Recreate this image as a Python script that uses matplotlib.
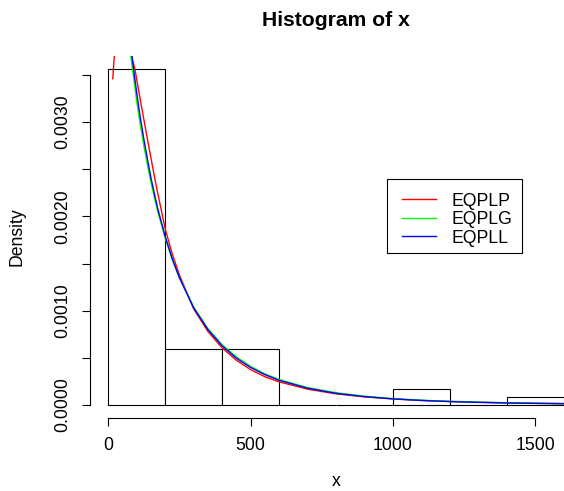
import matplotlib
matplotlib.use("Agg")
import matplotlib.pyplot as plt
from matplotlib.patches import Rectangle
from matplotlib.lines import Line2D
import numpy as np

plt.rcParams['font.family'] = ['Liberation Sans', 'DejaVu Sans']

# ---- data ----
breaks = [0, 200, 400, 600, 800, 1000, 1200, 1400, 1600]
density = [0.003559, 0.000593, 0.000593, 0.0, 0.0, 0.000169, 0.0, 0.0000847]

curve_x = [0, 25, 50, 60, 75, 90, 100, 112, 125, 140, 150, 165, 175, 200, 225, 250,
           300, 350, 400, 450, 500, 550, 600, 700, 800, 900, 1000, 1100, 1200, 1300,
           1400, 1500, 1600]
eqplg_y = [0.00680, 0.00560, 0.00465, 0.00432, 0.00380, 0.00345, 0.00322, 0.00298,
           0.00275, 0.00251, 0.00236, 0.00216, 0.00204, 0.00177, 0.00154, 0.00135,
           0.00104, 0.00081, 0.00064, 0.00051, 0.00041, 0.00033, 0.00027, 0.000185,
           0.000130, 0.000093, 0.000068, 0.000051, 0.000039, 0.000030, 0.000023,
           0.000018, 0.000014]
eqpll_y = [0.00664, 0.00553, 0.00463, 0.00431, 0.00390, 0.00354, 0.00331, 0.00306,
           0.00282, 0.00257, 0.00241, 0.00220, 0.00207, 0.00179, 0.00155, 0.00135,
           0.00103, 0.00080, 0.000627, 0.000497, 0.000398, 0.000322, 0.000262,
           0.000178, 0.000124, 0.0000888, 0.0000647, 0.0000480, 0.0000362, 0.0000277,
           0.0000215, 0.0000168, 0.0000134]
eqplp_x = [16, 20, 30, 40, 50, 60, 70, 80, 94, 110, 125, 140, 150, 165, 175, 200, 225,
           250, 300, 350, 400, 450, 500, 550, 600, 700, 800, 900, 1000, 1100, 1200,
           1300, 1400, 1500, 1600]
eqplp_y = [0.00346, 0.00365, 0.00392, 0.00405, 0.00405, 0.00397, 0.00385, 0.00372,
           0.00356, 0.00328, 0.00303, 0.00278, 0.00262, 0.00238, 0.00223, 0.00187,
           0.00160, 0.00138, 0.00102, 0.00078, 0.000605, 0.000475, 0.000375,
           0.000300, 0.000245, 0.000168, 0.000118, 0.000086, 0.000064, 0.000048,
           0.000037, 0.000029, 0.000023, 0.000018, 0.000015]

legend_labels = ["EQPLP", "EQPLG", "EQPLL"]
legend_colors = ["#FF0000", "#00FF00", "#0000FF"]

x_ticks = [0, 500, 1000, 1500]
y_ticks = [0, 0.0005, 0.0010, 0.0015, 0.0020, 0.0025, 0.0030, 0.0035]
y_ticklabels = ["0.0000", "", "0.0010", "", "0.0020", "", "0.0030", ""]

# ---- figure ----
W, H = 564, 491
fig = plt.figure(figsize=(W / 100, H / 100), dpi=100)
left_px, right_px, top_px, bottom_px = 90, 582, 56, 418.4
ax = fig.add_axes([left_px / W, 1 - bottom_px / H,
                   (right_px - left_px) / W, (bottom_px - top_px) / H])

xr = breaks[-1] - breaks[0]
ax.set_xlim(breaks[0] - 0.04 * xr, breaks[-1] + 0.04 * xr)
ymax = max(density)
ax.set_ylim(-0.04 * ymax, ymax * 1.04)

lefts = breaks[:-1]
widths = np.diff(breaks)
ax.bar(lefts, density, width=widths, align='edge', facecolor='white',
       edgecolor='black', linewidth=0.8, zorder=2)

ax.plot(eqplp_x, eqplp_y, color=legend_colors[0], lw=1.0, zorder=3)
ax.plot(curve_x, eqplg_y, color=legend_colors[1], lw=1.0, zorder=3)
ax.plot(curve_x, eqpll_y, color=legend_colors[2], lw=1.0, zorder=3)

for s in ['top', 'right']:
    ax.spines[s].set_visible(False)
ax.spines['left'].set_bounds(0, 0.0035)
ax.spines['bottom'].set_bounds(0, 1500)
for s in ['left', 'bottom']:
    ax.spines[s].set_linewidth(0.8)

ax.set_xticks(x_ticks)
ax.set_xticklabels([str(v) for v in x_ticks], fontsize=12.7)
ax.set_yticks(y_ticks)
ax.set_yticklabels(y_ticklabels, fontsize=12.7, rotation=90, va='center', ha='right')
ax.tick_params(axis='both', length=6.1, width=0.8, color='black')
ax.tick_params(axis='x', pad=7.0)
ax.tick_params(axis='y', pad=7.5)
ax.patch.set_visible(False)

fig.text(336 / W, 1 - 26 / H, "Histogram of x", ha='center', va='baseline',
         fontsize=15.2, fontweight='bold')
fig.text(336 / W, 1 - 486.5 / H, "x", ha='center', va='baseline', fontsize=12.7)
fig.text(17 / W, 1 - 237 / H, "Density", ha='center', va='center', rotation=90,
         fontsize=12.7)

# legend box (R style)
bx0, bx1, by0, by1 = 386.7, 521.7, 179.3, 253.3
fig.patches.append(Rectangle((bx0 / W, 1 - by1 / H), (bx1 - bx0) / W, (by1 - by0) / H,
                             transform=fig.transFigure, facecolor='white',
                             edgecolor='black', linewidth=0.8))
rows = [199, 217.5, 236]
for lab, col, ry in zip(legend_labels, legend_colors, rows):
    fig.lines.append(Line2D([402.3 / W, 435.7 / W], [1 - ry / H, 1 - ry / H],
                            transform=fig.transFigure, color=col, lw=1.0))
    fig.text(451.7 / W, 1 - ry / H, lab, ha='left', va='center_baseline',
             fontsize=12.7, color='black')

fig.savefig("out.png", dpi=100)
